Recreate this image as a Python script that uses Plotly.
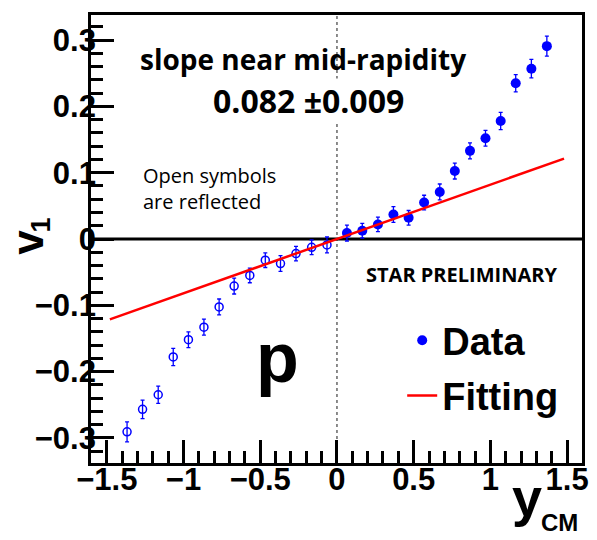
import plotly.graph_objects as go

# Proton v1 vs rapidity (filled: measured, open: reflected through origin)
y_cm = [0.065, 0.165, 0.267, 0.368, 0.467, 0.568, 0.670, 0.768, 0.867, 0.968, 1.067, 1.165, 1.267, 1.368]
v1 = [0.009, 0.0125, 0.022, 0.037, 0.032, 0.055, 0.071, 0.1025, 0.133, 0.152, 0.178, 0.235, 0.257, 0.291]
v1_err = [0.012, 0.011, 0.011, 0.012, 0.011, 0.011, 0.012, 0.012, 0.012, 0.012, 0.013, 0.013, 0.014, 0.015]

y_cm_reflected = [-x for x in y_cm]
v1_reflected = [-v for v in v1]

# Linear fit near mid-rapidity
slope = 0.082
slope_err = 0.009
fit_y = [-1.48, 1.48]
fit_v1 = [slope * x for x in fit_y]

x_ticks = [-1.5, -1.0, -0.5, 0.0, 0.5, 1.0, 1.5]
y_ticks = [-0.3, -0.2, -0.1, 0.0, 0.1, 0.2, 0.3]
x_range = [-1.603, 1.597]
y_range = [-0.338, 0.338]

W, H = 597, 540
ML, MR, MT, MB = 91, 9, 15, 77
PW, PH = W - ML - MR, H - MT - MB


def px(x):
    return (x - ML) / PW


def py(y):
    return (H - MB - y) / PH


BLUE = "#0000ff"
RED = "#ff0000"
ROOT_FONT = "Liberation Sans"
LABEL_FONT = "Open Sans"

fig = go.Figure()

fig.add_trace(go.Scatter(
    x=y_cm_reflected, y=v1_reflected, mode="markers", showlegend=False,
    marker=dict(symbol="circle-open", size=8, color=BLUE, line=dict(width=1.5, color=BLUE)),
    error_y=dict(type="data", array=v1_err, color=BLUE, thickness=1.3, width=2),
))
fig.add_trace(go.Scatter(
    x=y_cm, y=v1, mode="markers", name="Data", legendgroup="a",
    marker=dict(symbol="circle", size=10, color=BLUE),
    error_y=dict(type="data", array=v1_err, color=BLUE, thickness=1.3, width=2),
))
fig.add_trace(go.Scatter(
    x=fit_y, y=fit_v1, mode="lines", name="Fitting", legendgroup="b",
    line=dict(color=RED, width=2.5), xaxis="x2", yaxis="y2",
))

# zero lines
fig.add_shape(type="line", xref="x", yref="paper", x0=0, x1=0, y0=0, y1=1,
              line=dict(color="#666666", width=1.5, dash="dot"), layer="below")
fig.add_shape(type="line", xref="paper", yref="y", x0=0, x1=1, y0=0, y1=0,
              line=dict(color="black", width=3), layer="below")

annotations = [
    dict(text="slope near mid-rapidity", x=px(306), y=py(59),
         font=dict(family=LABEL_FONT, size=28, weight="bold", color="black")),
    dict(text=f"{slope:.3f} \u00b1{slope_err:.3f}", x=px(311), y=py(100), bgcolor="white",
         font=dict(family=LABEL_FONT, size=32, weight="bold", color="black")),
    dict(text="Open symbols<br>are reflected", x=px(143), y=py(189), xanchor="left", align="left",
         font=dict(family=LABEL_FONT, size=20, color="black")),
    dict(text="STAR PRELIMINARY", x=px(466), y=py(274),
         font=dict(family=LABEL_FONT, size=20, weight="bold", color="black")),
    dict(text="p", x=px(280), y=py(358),
         font=dict(family=ROOT_FONT, size=70, weight="bold", color="black")),
    dict(text="v", x=px(26), y=py(242), textangle=-90,
         font=dict(family=ROOT_FONT, size=44, weight="bold", color="black")),
    dict(text="1", x=px(40), y=py(225), textangle=-90,
         font=dict(family=ROOT_FONT, size=27, weight="bold", color="black")),
    dict(text="y", x=px(532), y=py(497),
         font=dict(family=ROOT_FONT, size=54, weight="bold", color="black")),
    dict(text="CM", x=px(565), y=py(522),
         font=dict(family=ROOT_FONT, size=24, weight="bold", color="black")),
]
for a in annotations:
    a.setdefault("xref", "paper")
    a.setdefault("yref", "paper")
    a.setdefault("showarrow", False)
    a.setdefault("xanchor", "center")
    a.setdefault("yanchor", "middle")
    a.setdefault("borderpad", 0)

tick_font = dict(family=ROOT_FONT, size=31, weight="bold", color="black")

# frame + inside ticks on the main axes
axis_common = dict(
    showgrid=False, zeroline=False, showline=True, mirror=True,
    linecolor="black", linewidth=3, showticklabels=False,
    ticks="inside", tickcolor="black", tickwidth=3, ticklen=23,
)
# label-only axes, sitting right against the frame
label_common = dict(
    showgrid=False, zeroline=False, showline=False, ticks="",
    showticklabels=True, tickfont=tick_font, anchor="free",
)

fig.update_layout(
    width=W, height=H,
    margin=dict(l=ML, r=MR, t=MT, b=MB),
    paper_bgcolor="white", plot_bgcolor="white",
    xaxis=dict(range=x_range, tickvals=x_ticks,
               minor=dict(ticks="inside", dtick=0.1, ticklen=12, tickwidth=3, tickcolor="black"),
               **axis_common),
    yaxis=dict(range=y_range, tickvals=y_ticks,
               minor=dict(ticks="inside", dtick=0.02, ticklen=12, tickwidth=3, tickcolor="black"),
               **axis_common),
    xaxis2=dict(range=x_range, tickvals=x_ticks, overlaying="x", side="bottom",
                position=5 / PH, **label_common),
    yaxis2=dict(range=y_range, tickvals=y_ticks, overlaying="y", side="left",
                position=5 / PW, **label_common),
    legend=dict(x=px(406), y=py(309), xanchor="left", yanchor="top",
                bgcolor="rgba(0,0,0,0)", traceorder="grouped", tracegroupgap=3,
                font=dict(family=ROOT_FONT, size=38, weight="bold", color="black")),
    annotations=annotations,
    showlegend=True,
)

fig.write_html("out.html")
